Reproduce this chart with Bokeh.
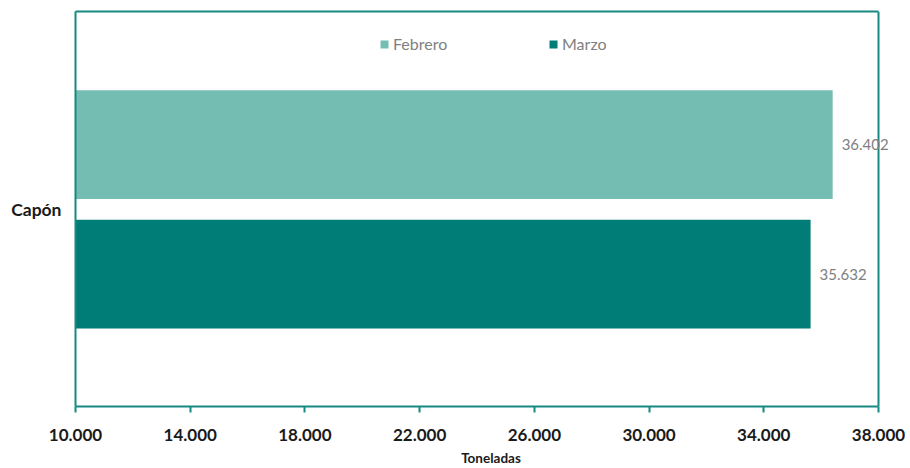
from bokeh.plotting import figure
from bokeh.models import (FixedTicker, Legend, LegendItem, ColumnDataSource, FactorRange,
                          LabelSet, Range1d, LinearAxis, Span)
from bokeh.transform import dodge
from bokeh.core.properties import value
from bokeh.embed import file_html
from bokeh.resources import INLINE

categories = ["Capón"]
series = ["Febrero", "Marzo"]
febrero = [36402]
marzo = [35632]
tick_values = [10000, 14000, 18000, 22000, 26000, 30000, 34000, 38000]
tick_labels = ["10.000", "14.000", "18.000", "22.000", "26.000", "30.000", "34.000", "38.000"]
colors = ["#74BDB2", "#007D76"]
frame_color = "#168A82"
FONT = "Lato"

def fmt(v):
    return f"{v:,}".replace(",", ".")

src = ColumnDataSource(dict(
    cat=categories,
    feb=febrero,
    mar=marzo,
    feb_lbl=[fmt(v) for v in febrero],
    mar_lbl=[fmt(v) for v in marzo],
))

W, H = 908, 468
BL, BR, BT, BB = 75, 2, 11, 60
axis_px = 803  # pixel length of the 10000..38000 axis
x0, x1 = tick_values[0], tick_values[-1]
frame_px = W - BL - BR
x_end = x0 + (x1 - x0) * frame_px / axis_px

p = figure(width=W, height=H, y_range=FactorRange(*categories),
           x_range=Range1d(x0, x_end), output_backend="svg", toolbar_location=None,
           min_border_left=BL, min_border_right=BR, min_border_top=BT, min_border_bottom=BB)

xa = p.below[0]
ya = p.left[0]

r1 = p.hbar(y=dodge("cat", 0.163, range=p.y_range), right="feb", left=x0, height=0.275,
            source=src, fill_color=colors[0], line_color=None)
r2 = p.hbar(y=dodge("cat", -0.165, range=p.y_range), right="mar", left=x0, height=0.275,
            source=src, fill_color=colors[1], line_color=None)

for xf, off, lf in (("feb", 0.163, "feb_lbl"), ("mar", -0.165, "mar_lbl")):
    ls = LabelSet(x=xf, y=dodge("cat", off, range=p.y_range), text=lf, source=src,
                  x_offset=9, text_baseline="middle", text_align="left",
                  text_color="#7F7F7F", text_font=value(FONT), text_font_size="15px",
                  level="overlay")
    p.add_layout(ls)

p.xgrid.visible = False
p.ygrid.visible = False
p.outline_line_color = None
p.background_fill_color = "white"
p.border_fill_color = "white"

# right edge of the plot frame at x = 38000
p.add_layout(Span(location=x1, dimension="height", line_color=frame_color, line_width=2))

# top edge of the plot frame
top = LinearAxis(bounds=(x0, x1), ticker=FixedTicker(ticks=[]))
top.axis_line_color = frame_color
top.axis_line_width = 2
top.major_tick_line_color = None
top.minor_tick_line_color = None
top.major_label_text_font_size = "0px"
p.add_layout(top, "above")

xa.bounds = (x0, x1)
xa.ticker = FixedTicker(ticks=tick_values)
xa.major_label_overrides = {v: l for v, l in zip(tick_values, tick_labels)}
xa.axis_line_color = frame_color
xa.axis_line_width = 2
xa.major_tick_line_color = frame_color
xa.major_tick_line_width = 2
xa.major_tick_in = 0
xa.major_tick_out = 6
xa.minor_tick_line_color = None
xa.major_label_text_font = FONT
xa.major_label_text_font_style = "bold"
xa.major_label_text_font_size = "17px"
xa.major_label_text_color = "#1A1A1A"
xa.major_label_standoff = 16
xa.axis_label = "Toneladas"
xa.axis_label_text_font = FONT
xa.axis_label_text_font_style = "bold"
xa.axis_label_text_font_size = "13.5px"
xa.axis_label_text_color = "#1A1A1A"
xa.axis_label_standoff = 6

ya.axis_line_color = frame_color
ya.axis_line_width = 2
ya.major_tick_line_color = None
ya.minor_tick_line_color = None
ya.major_label_text_font = FONT
ya.major_label_text_font_style = "bold"
ya.major_label_text_font_size = "17.5px"
ya.major_label_text_color = "#1A1A1A"
ya.major_label_text_baseline = "top"
ya.major_label_standoff = 8

legend = Legend(items=[LegendItem(label=series[0], renderers=[r1]),
                       LegendItem(label=series[1], renderers=[r2])],
                orientation="horizontal", location=(304, 353),
                glyph_width=10, glyph_height=10, label_standoff=4, label_width=155,
                spacing=0, padding=0, margin=0, border_line_color=None,
                background_fill_alpha=0, label_text_font=FONT,
                label_text_font_size="16px", label_text_color="#7F7F7F",
                label_height=18)
p.add_layout(legend, "center")

open("out.html", "w").write(file_html(p, INLINE))
